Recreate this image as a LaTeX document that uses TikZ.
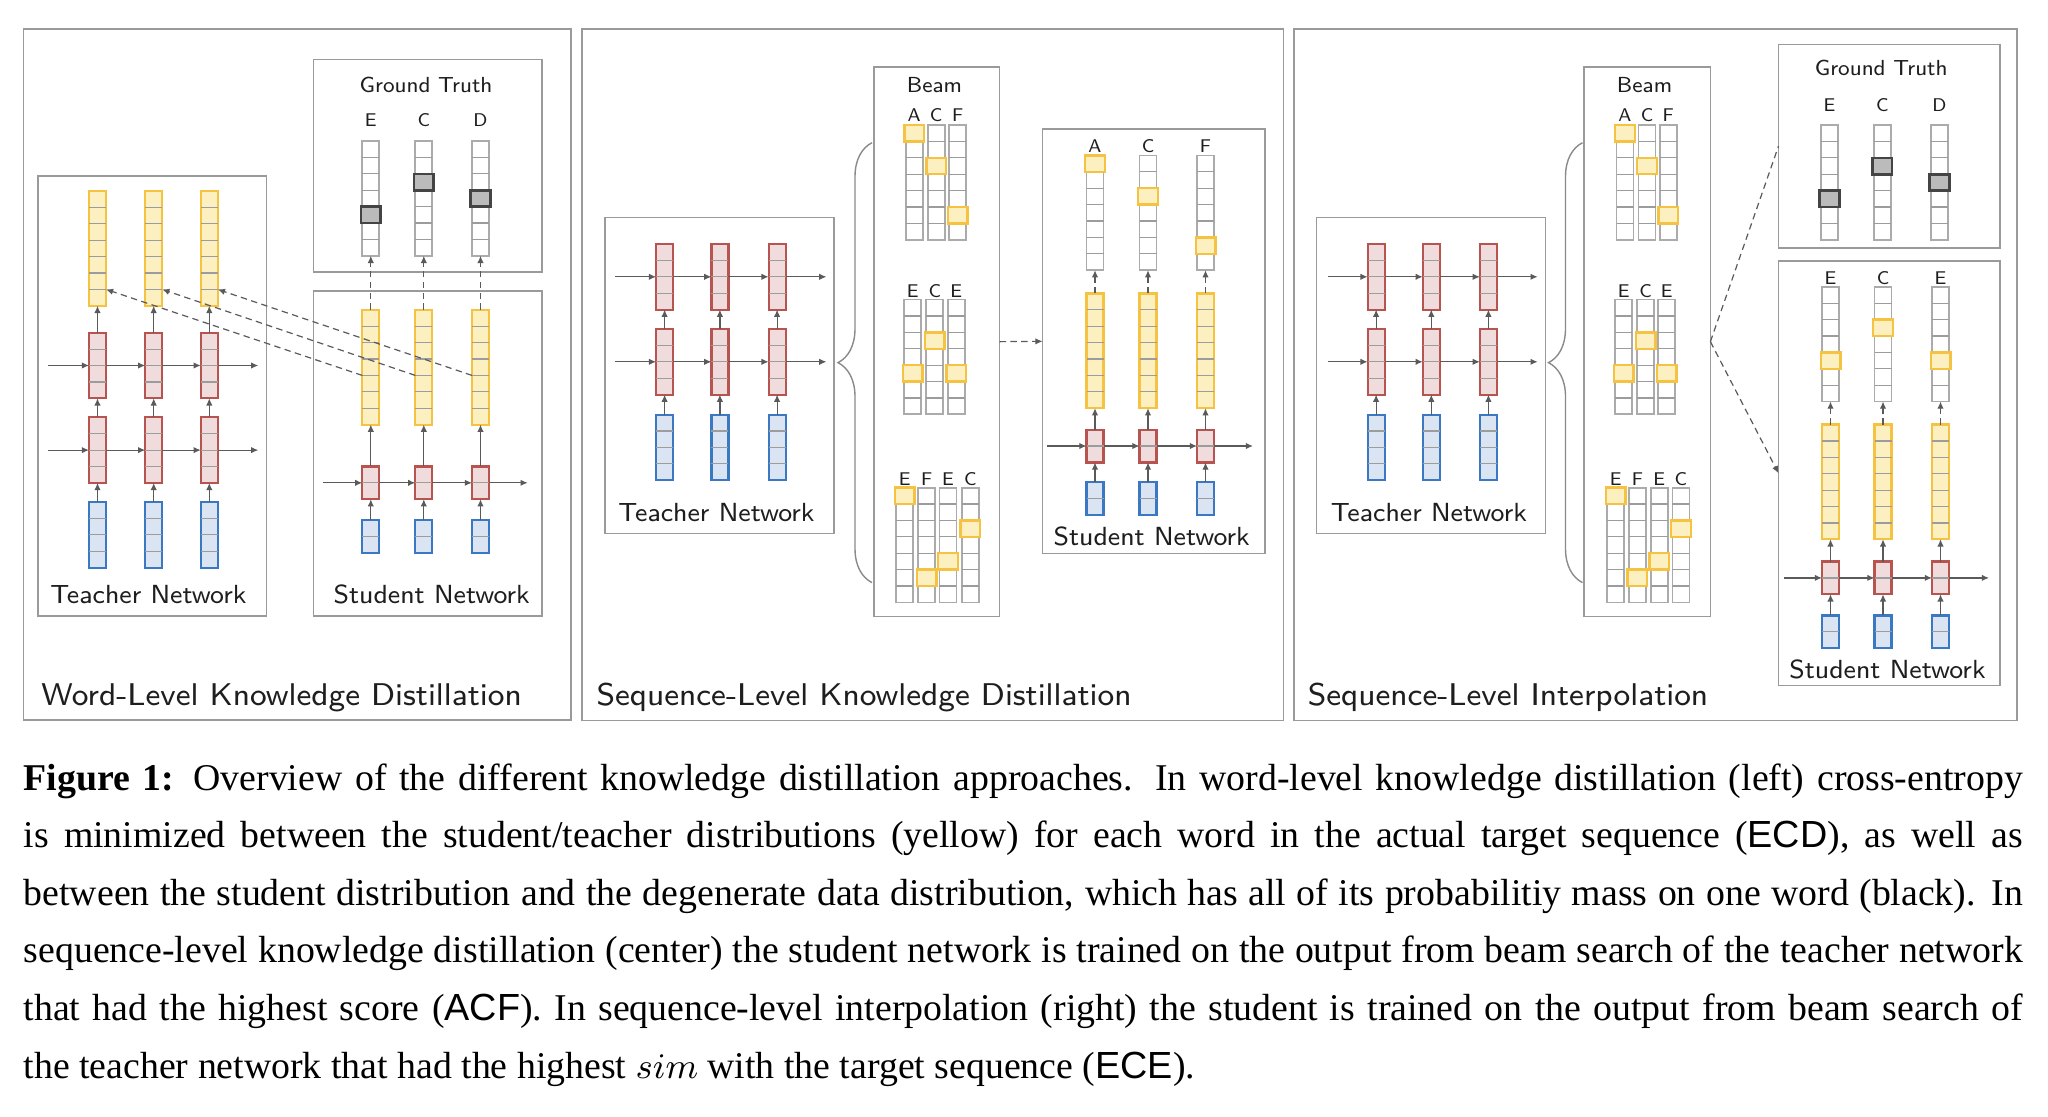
\documentclass[tikz,border=0pt]{standalone}
\usepackage{fontspec}
\newfontfamily\capfont{Liberation Serif}
\newfontfamily\capsans{Liberation Sans}
\usetikzlibrary{calc,arrows.meta,decorations.pathreplacing}
\definecolor{ybord}{HTML}{F5C242}
\definecolor{yfill}{HTML}{FCEFC0}
\definecolor{rbord}{HTML}{B85450}
\definecolor{rfill}{HTML}{F0DCDC}
\definecolor{bbord}{HTML}{3A78C3}
\definecolor{bfill}{HTML}{DAE4F2}
\definecolor{panelgray}{HTML}{9A9A9A}
\definecolor{divgray}{HTML}{9C9C9C}
\definecolor{wbord}{HTML}{ABABAB}
\definecolor{gtbord}{HTML}{444444}
\definecolor{gtfill}{HTML}{BBBBBB}
\definecolor{arrgray}{HTML}{5A5A5A}
\definecolor{bracegray}{HTML}{8A8A8A}
\definecolor{txt}{HTML}{1E1E1E}
\tikzset{
 boxst/.style={draw=panelgray, line width=0.4pt, inner sep=0pt, outer sep=0pt},
 colbase/.style={inner sep=0pt, outer sep=0pt, minimum width=4.25pt, line width=0.55pt},
 ycol/.style={colbase, draw=ybord, fill=yfill},
 rcol/.style={colbase, draw=rbord, fill=rfill},
 bcol/.style={colbase, draw=bbord, fill=bfill},
 wcol/.style={colbase, draw=wbord, fill=white, line width=0.45pt},
 divline/.style={draw=divgray, line width=0.3pt},
 gthl/.style={inner sep=0pt, outer sep=0pt, minimum width=4.9pt, minimum height=4.1pt, draw=gtbord, fill=gtfill, line width=0.65pt},
 yhl/.style={inner sep=0pt, outer sep=0pt, minimum width=4.9pt, minimum height=4.1pt, draw=ybord, fill=yfill, line width=0.6pt},
 arr/.style={draw=arrgray, line width=0.3pt, -{Latex[length=1.8pt,width=1.6pt]}},
 darr/.style={arr, dash pattern=on 1.6pt off 1.1pt},
 dline/.style={draw=arrgray, line width=0.3pt, dash pattern=on 1.6pt off 1.1pt},
 bracest/.style={draw=bracegray, line width=0.35pt, decorate, decoration={brace, amplitude=8.5pt}},
 lbl/.style={font=\sffamily\fontsize{4.6pt}{5pt}\selectfont, inner sep=0pt, anchor=base, text=txt},
 hdr/.style={font=\sffamily\fontsize{5.45pt}{7pt}\selectfont, inner sep=0pt, anchor=base, text=txt},
 net/.style={font=\sffamily\fontsize{6.55pt}{8pt}\selectfont, inner sep=0pt, anchor=base, text=txt},
 ttl/.style={font=\sffamily\fontsize{7.85pt}{10pt}\selectfont, inner sep=0pt, anchor=base west, text=txt},
 capl/.style={font=\capfont\fontsize{9.45pt}{12pt}\selectfont, inner sep=0pt, anchor=base west},
}
% column: name, style, x, ytop, ncells
\newcommand\vcol[5]{%
  \node[#2, minimum height=#5*4.1pt, anchor=north] (#1) at (#3,#4) {};
  \pgfmathtruncatemacro\nmo{#5-1}%
  \foreach \k in {1,...,\nmo}{\draw[divline] ($(#1.north west)!\k/#5!(#1.south west)$) -- ($(#1.north east)!\k/#5!(#1.south east)$);}%
}
% highlighted cell: name, style, column, index, ncells
\newcommand\hcell[5]{%
  \node[#2] (#1) at ($(#3.north)!{(#4+0.5)/#5}!(#3.south)$) {};%
}
% box: name, x1, y1, x2, y2
\newcommand\boxnode[5]{%
  \node[boxst, minimum width={(#4-#2)*0.25pt}, minimum height={(#5-#3)*0.25pt}] (#1) at ({(#2+#4)/2},{(#3+#5)/2}) {};%
}
% horizontal chain through three blocks
\newcommand\hchain[5]{%
  \draw[arr] (#1 |- #3.west) -- (#3.west);
  \draw[arr] (#3.east) -- (#4.west);
  \draw[arr] (#4.east) -- (#5.west);
  \draw[arr] (#5.east) -- (#2 |- #5.east);%
}
\begin{document}
\begin{tikzpicture}[x=0.25pt,y=-0.25pt]
\useasboundingbox[fill=white] (0,0) rectangle (2048,1116);

% ---------------- boxes
\boxnode{p1outer}{23.4}{29}{571}{720}
\boxnode{p1teach}{38}{176}{266.5}{616}
\boxnode{p1gt}{313.3}{59.6}{541.7}{272}
\boxnode{p1stud}{313.3}{291}{541.7}{616}
\boxnode{p2outer}{581.7}{29}{1283.6}{720.6}
\boxnode{p2teach}{605}{217.6}{834}{533.5}
\boxnode{p2beam}{874}{67}{999.6}{616.3}
\boxnode{p2stud}{1042.6}{129}{1265}{553.6}
\boxnode{p3outer}{1293.9}{29}{2017}{720.6}
\boxnode{p3teach}{1316.6}{217.6}{1545.4}{533.5}
\boxnode{p3beam}{1584}{67}{1710.4}{616.3}
\boxnode{p3gt}{1778.5}{44.5}{2000}{247.7}
\boxnode{p3stud}{1778.5}{261}{2000}{685.5}

% ---------------- panel 1: teacher
\foreach \i/\x in {1/97.5,2/153.7,3/209.3}{
  \vcol{p1ty\i}{ycol}{\x}{191}{7}
  \vcol{p1tra\i}{rcol}{\x}{332.7}{4}
  \vcol{p1trb\i}{rcol}{\x}{417.3}{4}
  \vcol{p1tb\i}{bcol}{\x}{502}{4}
  \draw[arr] (p1tb\i.north) -- (p1trb\i.south);
  \draw[arr] (p1trb\i.north) -- (p1tra\i.south);
  \draw[arr] (p1tra\i.north) -- (p1ty\i.south);
}
\coordinate (p1hs) at (48.3,0);
\coordinate (p1he) at (258.3,0);
\hchain{p1hs}{p1he}{p1tra1}{p1tra2}{p1tra3}
\hchain{p1hs}{p1he}{p1trb1}{p1trb2}{p1trb3}
\node[net] (p1tname) at (148.3,603.5) {Teacher Network};

% ---------------- panel 1: ground truth and student
\node[hdr] (p1gtname) at (426,92.8) {Ground Truth};
\foreach \i/\x/\h/\t in {1/370.8/4/E,2/423.8/2/C,3/480.5/3/D}{
  \node[lbl] (p1gl\i) at (\x,126.8) {\t};
  \vcol{p1g\i}{wcol}{\x}{141}{7}
  \hcell{p1gh\i}{gthl}{p1g\i}{\h}{7}
  \vcol{p1sy\i}{ycol}{\x}{309.8}{7}
  \vcol{p1sr\i}{rcol}{\x}{466.4}{2}
  \vcol{p1sb\i}{bcol}{\x}{520}{2}
  \draw[arr] (p1sb\i.north) -- (p1sr\i.south);
  \draw[arr] (p1sr\i.north) -- (p1sy\i.south);
  \draw[darr] (p1sy\i.north) -- (p1g\i.south);
}
\coordinate (p1shs) at (322.7,0);
\coordinate (p1she) at (527.7,0);
\hchain{p1shs}{p1she}{p1sr1}{p1sr2}{p1sr3}
\node[net] (p1sname) at (431.7,603.5) {Student Network};
\foreach \i in {1,2,3}{
  \draw[darr] ($(p1sy\i.north west)!4/7!(p1sy\i.south west)$) -- ($(p1ty\i.north east)!6/7!(p1ty\i.south east)$);
}
\node[ttl] (p1title) at (40.5,705) {Word-Level Knowledge Distillation};

% ---------------- panel 2: teacher
\foreach \i/\x in {1/664.6,2/719.9,3/777.1}{
  \vcol{p2tra\i}{rcol}{\x}{244}{4}
  \vcol{p2trb\i}{rcol}{\x}{329}{4}
  \vcol{p2tb\i}{bcol}{\x}{414.6}{4}
  \draw[arr] (p2tb\i.north) -- (p2trb\i.south);
  \draw[arr] (p2trb\i.north) -- (p2tra\i.south);
}
\coordinate (p2hs) at (615.4,0);
\coordinate (p2he) at (826.4,0);
\hchain{p2hs}{p2he}{p2tra1}{p2tra2}{p2tra3}
\hchain{p2hs}{p2he}{p2trb1}{p2trb2}{p2trb3}
\node[net] (p2tname) at (716.5,521.8) {Teacher Network};
\draw[bracest] (872,582.6) -- (872,142.7);

% ---------------- panel 2: beam
\node[hdr] (p2beamname) at (934.5,92.7) {Beam};
\foreach \i/\x/\h/\t in {1/914.2/0/A,2/936.2/2/C,3/957.7/5/F}{
  \node[lbl] (p2al\i) at (\x,121.7) {\t};
  \vcol{p2a\i}{wcol}{\x}{125}{7}
  \hcell{p2ah\i}{yhl}{p2a\i}{\h}{7}
}
\foreach \i/\x/\h/\t in {1/912.8/4/E,2/934.8/2/C,3/956.3/4/E}{
  \node[lbl] (p2bl\i) at (\x,297) {\t};
  \vcol{p2b\i}{wcol}{\x}{299.5}{7}
  \hcell{p2bh\i}{yhl}{p2b\i}{\h}{7}
}
\foreach \i/\x/\h/\t in {1/904.8/0/E,2/926.8/5/F,3/947.9/4/E,4/970.3/2/C}{
  \node[lbl] (p2cl\i) at (\x,485.3) {\t};
  \vcol{p2c\i}{wcol}{\x}{487.6}{7}
  \hcell{p2ch\i}{yhl}{p2c\i}{\h}{7}
}
\draw[darr] (p2beam.east) -- (p2stud.west);

% ---------------- panel 2: student
\foreach \i/\x/\h/\t in {1/1095/0/A,2/1148/2/C,3/1205.5/5/F}{
  \node[lbl] (p2sl\i) at (\x,152) {\t};
  \vcol{p2sw\i}{wcol}{\x}{155.4}{7}
  \hcell{p2swh\i}{yhl}{p2sw\i}{\h}{7}
  \vcol{p2sy\i}{ycol}{\x}{293.4}{7}
  \vcol{p2sr\i}{rcol}{\x}{429.6}{2}
  \vcol{p2sb\i}{bcol}{\x}{482}{2}
  \draw[arr] (p2sb\i.north) -- (p2sr\i.south);
  \draw[arr] (p2sr\i.north) -- (p2sy\i.south);
  \draw[darr] (p2sy\i.north) -- (p2sw\i.south);
}
\coordinate (p2shs) at (1047,0);
\coordinate (p2she) at (1253,0);
\hchain{p2shs}{p2she}{p2sr1}{p2sr2}{p2sr3}
\node[net] (p2sname) at (1151.7,545) {Student Network};
\node[ttl] (p2title) at (595.7,705) {Sequence-Level Knowledge Distillation};

% ---------------- panel 3: teacher
\foreach \i/\x in {1/1376.1,2/1431.3,3/1488.4}{
  \vcol{p3tra\i}{rcol}{\x}{244}{4}
  \vcol{p3trb\i}{rcol}{\x}{329}{4}
  \vcol{p3tb\i}{bcol}{\x}{414.6}{4}
  \draw[arr] (p3tb\i.north) -- (p3trb\i.south);
  \draw[arr] (p3trb\i.north) -- (p3tra\i.south);
}
\coordinate (p3hs) at (1327.7,0);
\coordinate (p3he) at (1537.7,0);
\hchain{p3hs}{p3he}{p3tra1}{p3tra2}{p3tra3}
\hchain{p3hs}{p3he}{p3trb1}{p3trb2}{p3trb3}
\node[net] (p3tname) at (1428.8,521.8) {Teacher Network};
\draw[bracest] (1582.5,582.6) -- (1582.5,142.7);

% ---------------- panel 3: beam
\node[hdr] (p3beamname) at (1644.6,92.7) {Beam};
\foreach \i/\x/\h/\t in {1/1625/0/A,2/1647/2/C,3/1668.1/5/F}{
  \node[lbl] (p3al\i) at (\x,121.7) {\t};
  \vcol{p3a\i}{wcol}{\x}{125}{7}
  \hcell{p3ah\i}{yhl}{p3a\i}{\h}{7}
}
\foreach \i/\x/\h/\t in {1/1623.6/4/E,2/1645.6/2/C,3/1666.6/4/E}{
  \node[lbl] (p3bl\i) at (\x,297) {\t};
  \vcol{p3b\i}{wcol}{\x}{299.5}{7}
  \hcell{p3bh\i}{yhl}{p3b\i}{\h}{7}
}
\foreach \i/\x/\h/\t in {1/1615.6/0/E,2/1637.4/5/F,3/1659.1/4/E,4/1680.9/2/C}{
  \node[lbl] (p3cl\i) at (\x,485.3) {\t};
  \vcol{p3c\i}{wcol}{\x}{487.6}{7}
  \hcell{p3ch\i}{yhl}{p3c\i}{\h}{7}
}
\draw[dline] (p3beam.east) -- (p3gt.west);
\draw[darr] (p3beam.east) -- (p3stud.west);

% ---------------- panel 3: ground truth
\node[hdr] (p3gtname) at (1881.2,75.8) {Ground Truth};
\foreach \i/\x/\h/\t in {1/1829.5/4/E,2/1882.3/2/C,3/1939.5/3/D}{
  \node[lbl] (p3gl\i) at (\x,111.4) {\t};
  \vcol{p3g\i}{wcol}{\x}{125}{7}
  \hcell{p3gh\i}{gthl}{p3g\i}{\h}{7}
}

% ---------------- panel 3: student
\foreach \i/\x/\h/\t in {1/1830.5/4/E,2/1883/2/C,3/1940.5/4/E}{
  \node[lbl] (p3sl\i) at (\x,284.3) {\t};
  \vcol{p3sw\i}{wcol}{\x}{286.7}{7}
  \hcell{p3swh\i}{yhl}{p3sw\i}{\h}{7}
  \vcol{p3sy\i}{ycol}{\x}{424.5}{7}
  \vcol{p3sr\i}{rcol}{\x}{561.5}{2}
  \vcol{p3sb\i}{bcol}{\x}{615.4}{2}
  \draw[arr] (p3sb\i.north) -- (p3sr\i.south);
  \draw[arr] (p3sr\i.north) -- (p3sy\i.south);
  \draw[darr] (p3sy\i.north) -- (p3sw\i.south);
}
\coordinate (p3shs) at (1784.4,0);
\coordinate (p3she) at (1989,0);
\hchain{p3shs}{p3she}{p3sr1}{p3sr2}{p3sr3}
\node[net] (p3sname) at (1887.5,678.5) {Student Network};
\node[ttl] (p3title) at (1307,705) {Sequence-Level Interpolation};

% ---------------- caption
\node[capl] (cap1) at (23,790) {\makebox[499.75pt][s]{{\bfseries Figure 1:} Overview of the different knowledge distillation approaches. In word-level knowledge distillation (left) cross-entropy}};
\node[capl] (cap2) at (23,847.6) {\makebox[499.75pt][s]{is minimized between the student/teacher distributions (yellow) for each word in the actual target sequence ({\capsans ECD}), as well as}};
\node[capl] (cap3) at (23,905.2) {\makebox[499.75pt][s]{between the student distribution and the degenerate data distribution, which has all of its probabilitiy mass on one word (black). In}};
\node[capl] (cap4) at (23,962.8) {\makebox[499.75pt][s]{sequence-level knowledge distillation (center) the student network is trained on the output from beam search of the teacher network}};
\node[capl] (cap5) at (23,1020.4) {\makebox[499.75pt][s]{that had the highest score ({\capsans ACF}). In sequence-level interpolation (right) the student is trained on the output from beam search of}};
\node[capl] (cap6) at (23,1078) {the teacher network that had the highest $sim$ with the target sequence ({\capsans ECE}).};
\end{tikzpicture}
\end{document}
